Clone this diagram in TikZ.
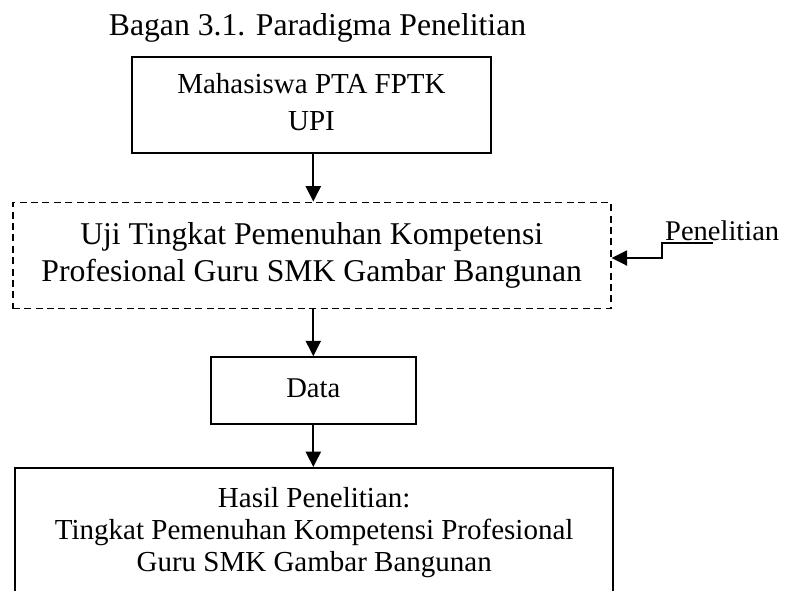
\documentclass[tikz,border=0pt]{standalone}
\usepackage{fontspec}
\setmainfont{Liberation Serif}
\usetikzlibrary{arrows.meta}
\begin{document}
\begin{tikzpicture}[x=1pt,y=-1pt,
  box/.style={draw, line width=1.8pt, rectangle, inner sep=0pt, align=center},
  dbox/.style={box, dash pattern=on 7pt off 4.4pt, line width=1.8pt},
  arr/.style={line width=2.2pt, -{Triangle[length=15.5pt,width=15pt]}},
  lbl/.style={inner sep=0pt},
]
\clip (0,0) rectangle (785,590);
\node[lbl, anchor=base, font=\fontsize{31.7}{38}\selectfont] (title) at (317.5,35) {Bagan 3.1. Paradigma Penelitian};
\node[box, minimum width=359pt, minimum height=96pt, font=\fontsize{29}{36.7}\selectfont] (mhs) at (311.5,105) {\strut Mahasiswa PTA FPTK\\UPI\strut};
\node[dbox, minimum width=598pt, minimum height=106pt, font=\fontsize{31.7}{37.7}\selectfont] (main) at (311.7,255.5) {\strut Uji Tingkat Pemenuhan Kompetensi\\Profesional Guru SMK Gambar Bangunan\strut};
\node[box, minimum width=205.3pt, minimum height=67pt, font=\fontsize{28.6}{34}\selectfont] (data) at (313.3,390.7) {\strut Data};
\node[box, minimum width=598.3pt, minimum height=130pt, font=\fontsize{29}{32.3}\selectfont] (res) at (314.2,533) {\strut Hasil Penelitian:\\Tingkat Pemenuhan Kompetensi Profesional\\Guru SMK Gambar Bangunan\strut};
\node[lbl, anchor=base west, font=\fontsize{28.5}{34}\selectfont] (pen) at (665,240) {Penelitian};
\coordinate (pe) at (713,243.3);
\draw[arr] (mhs.south -| data) -- (main.north -| data);
\draw[arr] (main.south -| data) -- (data.north);
\draw[arr] (data.south) -- (res.north -| data);
\draw[arr] (pe) -- ++(-51.3,0) |- (main.east |- 0,258);
\end{tikzpicture}
\end{document}
